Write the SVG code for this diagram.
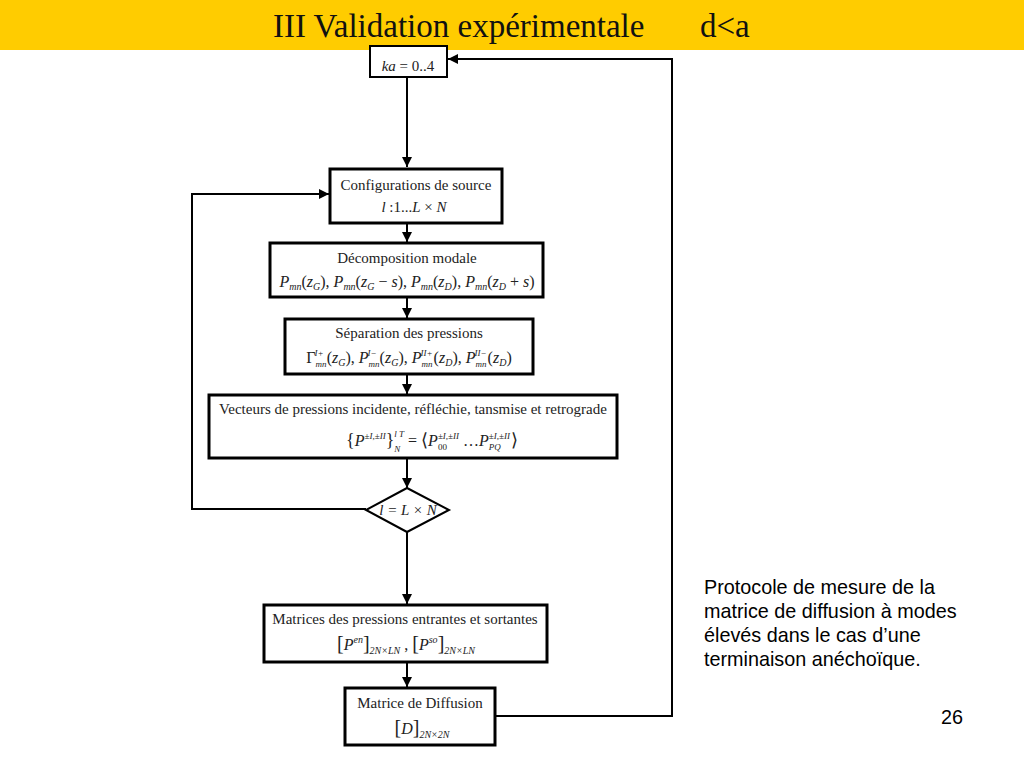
<svg xmlns="http://www.w3.org/2000/svg" width="1024" height="768" viewBox="0 0 1024 768">
<style>
.box{fill:#fff;stroke:#000;stroke-width:3}
.thin{fill:#fff;stroke:#000;stroke-width:2}
.ln{fill:none;stroke:#000;stroke-width:2}
.t{font-family:"Liberation Serif",serif;font-size:15px;fill:#222;text-anchor:middle}
.f{font-family:"Liberation Serif",serif;font-size:16px;fill:#222;text-anchor:middle}
.i{font-style:italic}
.s{font-size:10px}
.ss{font-size:9px}
.side{font-family:"Liberation Sans",Arial,sans-serif;font-size:19.8px;fill:#000}
</style>
<defs>
<marker id="ah" viewBox="0 0 10 10" refX="10" refY="5" markerWidth="5" markerHeight="5" orient="auto-start-reverse" markerUnits="strokeWidth">
<path d="M0,0 L10,5 L0,10 z" fill="#000"/>
</marker>
</defs>
<rect x="0" y="0" width="1024" height="768" fill="#fff"/>

<g id="connectors">
<line class="ln" x1="407" y1="77" x2="407" y2="167" marker-end="url(#ah)"/>
<line class="ln" x1="407" y1="223" x2="407" y2="242" marker-end="url(#ah)"/>
<line class="ln" x1="407" y1="297" x2="407" y2="318" marker-end="url(#ah)"/>
<line class="ln" x1="407" y1="374" x2="407" y2="394" marker-end="url(#ah)"/>
<line class="ln" x1="407" y1="458" x2="407" y2="488" marker-end="url(#ah)"/>
<line class="ln" x1="407" y1="532" x2="407" y2="604" marker-end="url(#ah)"/>
<line class="ln" x1="407" y1="662" x2="407" y2="687" marker-end="url(#ah)"/>
<polyline class="ln" points="366,509 192,509 192,194 329,194" marker-end="url(#ah)"/>
<polyline class="ln" points="495,716 672,716 672,59 448,59" marker-end="url(#ah)"/>
</g>

<g id="header">
<rect x="0" y="0" width="1024" height="50" fill="#FFCC00"/>
<text font-family="Liberation Serif,serif" font-size="33" fill="#111"><tspan x="273" y="37">III Validation expérimentale</tspan><tspan x="700" y="37">d&lt;a</tspan></text>
</g>

<g id="ka">
<rect class="thin" x="370" y="46" width="77" height="31"/>
<text class="t" x="408" y="71"><tspan class="i">ka</tspan> = 0..4</text>
</g>

<g id="config">
<rect class="box" x="330" y="169" width="172" height="54"/>
<text class="t" x="416" y="190">Configurations de source</text>
<text class="t" x="414" y="212"><tspan class="i">l</tspan> :1...<tspan class="i">L</tspan> × <tspan class="i">N</tspan></text>
</g>

<g id="decomp">
<rect class="box" x="270" y="243" width="273" height="54"/>
<text class="t" x="407" y="263">Décomposition modale</text>
<text class="f" x="407" y="287"><tspan class="i">P</tspan><tspan class="s i" dy="3">mn</tspan><tspan dy="-3">(</tspan><tspan class="i">z</tspan><tspan class="s i" dy="3">G</tspan><tspan dy="-3">), </tspan><tspan class="i">P</tspan><tspan class="s i" dy="3">mn</tspan><tspan dy="-3">(</tspan><tspan class="i">z</tspan><tspan class="s i" dy="3">G</tspan><tspan dy="-3"> − </tspan><tspan class="i">s</tspan>), <tspan class="i">P</tspan><tspan class="s i" dy="3">mn</tspan><tspan dy="-3">(</tspan><tspan class="i">z</tspan><tspan class="s i" dy="3">D</tspan><tspan dy="-3">), </tspan><tspan class="i">P</tspan><tspan class="s i" dy="3">mn</tspan><tspan dy="-3">(</tspan><tspan class="i">z</tspan><tspan class="s i" dy="3">D</tspan><tspan dy="-3"> + </tspan><tspan class="i">s</tspan>)</text>
</g>

<g id="separation">
<rect class="box" x="285" y="319" width="248" height="55"/>
<text class="t" x="409" y="338">Séparation des pressions</text>
<text class="f" x="409" y="363">Γ<tspan class="ss i" dy="4">mn</tspan><tspan class="ss i" dx="-12" dy="-11">I+</tspan><tspan dx="3" dy="7">(</tspan><tspan class="i">z</tspan><tspan class="s i" dy="3">G</tspan><tspan dy="-3">), </tspan><tspan class="i">P</tspan><tspan class="ss i" dy="4">mn</tspan><tspan class="ss i" dx="-12" dy="-11">I−</tspan><tspan dx="3" dy="7">(</tspan><tspan class="i">z</tspan><tspan class="s i" dy="3">G</tspan><tspan dy="-3">), </tspan><tspan class="i">P</tspan><tspan class="ss i" dy="4">mn</tspan><tspan class="ss i" dx="-12" dy="-11">II+</tspan><tspan dx="1" dy="7">(</tspan><tspan class="i">z</tspan><tspan class="s i" dy="3">D</tspan><tspan dy="-3">), </tspan><tspan class="i">P</tspan><tspan class="ss i" dy="4">mn</tspan><tspan class="ss i" dx="-12" dy="-11">II−</tspan><tspan dx="1" dy="7">(</tspan><tspan class="i">z</tspan><tspan class="s i" dy="3">D</tspan><tspan dy="-3">)</tspan></text>
</g>

<g id="vecteurs">
<rect class="box" x="209" y="395" width="408" height="63"/>
<text class="t" x="413" y="414">Vecteurs de pressions incidente, réfléchie, tansmise et retrograde</text>
<text class="f" x="432" y="446"><tspan font-size="18">{</tspan><tspan class="i">P</tspan><tspan class="ss i" dy="-7">±I,±II</tspan><tspan dy="7" font-size="18">}</tspan><tspan class="ss i" dy="6">N</tspan><tspan class="ss i" dx="-6" dy="-15">l T</tspan><tspan dy="9"> = </tspan><tspan font-size="18">⟨</tspan><tspan class="i">P</tspan><tspan class="ss" dy="4">00</tspan><tspan class="ss i" dx="-9" dy="-11">±I,±II</tspan><tspan dy="7"> …</tspan><tspan class="i">P</tspan><tspan class="ss i" dy="4">PQ</tspan><tspan class="ss i" dx="-12" dy="-11">±I,±II</tspan><tspan dx="1" dy="7" font-size="18">⟩</tspan></text>
</g>

<g id="decision">
<polygon class="thin" points="407,488 449,510 407,532 366,510"/>
<text class="t i" x="408" y="515">l = L × N</text>
</g>

<g id="matrices">
<rect class="box" x="264" y="605" width="283" height="57"/>
<text class="t" x="405" y="624">Matrices des pressions entrantes et sortantes</text>
<text class="f" x="406" y="650"><tspan font-size="20">[</tspan><tspan class="i">P</tspan><tspan class="s i" dy="-7">en</tspan><tspan font-size="20" dy="7">]</tspan><tspan class="s i" dy="4">2N×LN</tspan><tspan dy="-4"> , </tspan><tspan font-size="20">[</tspan><tspan class="i">P</tspan><tspan class="s i" dy="-7">so</tspan><tspan font-size="20" dy="7">]</tspan><tspan class="s i" dy="4">2N×LN</tspan></text>
</g>

<g id="diffusion">
<rect class="box" x="345" y="688" width="150" height="57"/>
<text class="t" x="420" y="708">Matrice de Diffusion</text>
<text class="f" x="422" y="734"><tspan font-size="20">[</tspan><tspan class="i">D</tspan><tspan font-size="20">]</tspan><tspan class="s i" dy="4">2N×2N</tspan></text>
</g>

<g id="caption">
<text class="side"><tspan x="704" y="594">Protocole de mesure de la</tspan><tspan x="704" y="618">matrice de diffusion à modes</tspan><tspan x="704" y="642">élevés dans le cas d’une</tspan><tspan x="704" y="666">terminaison anéchoïque.</tspan></text>
<text class="side" x="941" y="724">26</text>
</g>
</svg>
